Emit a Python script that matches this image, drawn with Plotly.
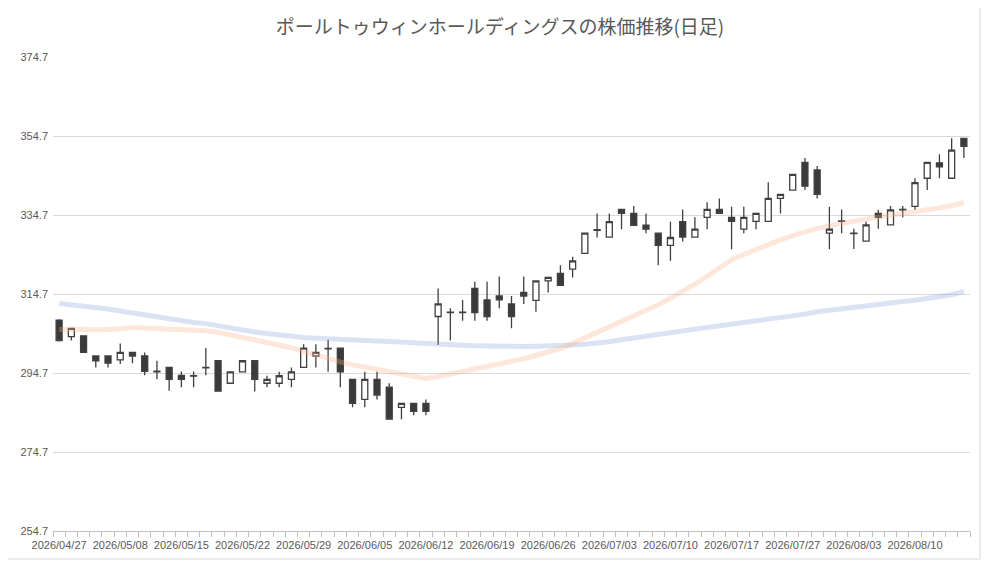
import plotly.graph_objects as go

dates = ["2026/04/27","2026/04/28","2026/04/30","2026/05/01","2026/05/07","2026/05/08","2026/05/11","2026/05/12","2026/05/13","2026/05/14",
         "2026/05/15","2026/05/18","2026/05/19","2026/05/20","2026/05/21","2026/05/22","2026/05/25","2026/05/26","2026/05/27","2026/05/28",
         "2026/05/29","2026/06/01","2026/06/02","2026/06/03","2026/06/04","2026/06/05","2026/06/08","2026/06/09","2026/06/10","2026/06/11",
         "2026/06/12","2026/06/15","2026/06/16","2026/06/17","2026/06/18","2026/06/19","2026/06/22","2026/06/23","2026/06/24","2026/06/25",
         "2026/06/26","2026/06/29","2026/06/30","2026/07/01","2026/07/02","2026/07/03","2026/07/06","2026/07/07","2026/07/08","2026/07/09",
         "2026/07/10","2026/07/13","2026/07/14","2026/07/15","2026/07/16","2026/07/17","2026/07/21","2026/07/22","2026/07/23","2026/07/24",
         "2026/07/27","2026/07/28","2026/07/29","2026/07/30","2026/07/31","2026/08/03","2026/08/04","2026/08/05","2026/08/06","2026/08/07",
         "2026/08/10","2026/08/12","2026/08/13","2026/08/14","2026/08/17"]

open_ = [308.1,303.9,304.1,299.0,299.0,298.0,299.9,299.0,295.2,296.1,
         294.1,294.0,296.0,297.8,292.1,295.0,297.8,292.1,292.1,293.1,
         296.1,299.0,300.8,301.0,293.1,288.0,293.1,291.1,286.0,287.0,
         287.0,309.0,310.1,310.1,316.1,313.2,314.2,312.2,315.1,313.1,
         318.0,319.9,321.0,325.0,331.0,329.1,336.1,335.1,332.1,330.1,
         327.0,333.0,329.1,334.1,336.1,334.1,331.1,333.1,333.1,338.9,
         341.0,348.0,346.1,330.1,333.2,330.1,328.1,335.1,332.2,336.0,
         336.9,344.0,347.9,344.0,354.1]
high = [308.3,306.0,304.1,299.0,299.0,302.2,300.1,299.9,297.8,296.1,
        295.1,295.1,301.0,297.8,295.0,297.8,297.8,294.0,295.0,296.1,
        302.0,302.0,303.1,301.0,293.1,295.0,295.0,292.1,287.0,287.0,
        288.0,316.1,311.1,313.2,317.8,317.8,319.1,314.2,319.1,318.0,
        318.9,322.0,324.1,330.1,335.1,335.1,336.1,337.0,335.1,330.1,
        333.0,336.1,334.1,337.9,338.9,336.8,336.8,335.1,343.0,339.9,
        345.0,349.1,347.1,336.8,336.1,331.2,333.0,336.0,337.0,337.0,
        344.0,348.0,350.1,354.1,354.1]
low = [302.7,302.9,299.9,296.1,296.1,297.0,297.2,294.1,293.1,290.2,
       291.1,291.1,294.1,290.1,292.1,295.0,290.0,291.1,291.1,291.1,
       296.0,296.1,295.0,291.1,286.0,286.0,288.0,283.0,283.0,284.0,
       284.0,301.8,302.9,307.9,307.9,307.9,311.1,306.0,312.2,310.2,
       315.1,316.9,318.9,325.0,329.0,329.1,331.1,332.1,330.1,322.0,
       323.1,328.0,329.1,331.1,335.1,326.0,330.1,331.1,333.1,335.1,
       341.0,341.0,338.9,326.0,330.1,326.1,328.1,331.2,332.2,334.1,
       336.0,341.0,344.0,344.0,349.1]
close = [302.9,306.0,299.9,297.8,297.2,299.9,299.0,295.1,295.0,293.1,
         293.1,293.9,296.1,290.1,295.0,297.8,293.1,293.1,294.0,295.0,
         301.0,299.9,300.9,295.0,287.0,293.1,289.1,283.0,287.0,285.0,
         285.0,312.2,310.0,310.0,310.0,309.0,313.2,309.0,314.2,318.0,
         318.9,316.9,323.1,330.1,330.8,333.0,335.1,332.1,331.1,327.0,
         329.0,329.1,331.1,336.1,335.1,333.1,334.1,335.1,338.9,339.9,
         345.0,342.0,339.9,331.1,333.1,330.0,332.2,334.1,336.0,336.1,
         342.9,348.0,346.9,351.1,352.1]

ma_short = [305.7,305.9,305.8,305.6,305.6,305.9,306.2,306.1,306.0,305.9,
            305.7,305.5,305.4,305.0,304.4,303.8,303.2,302.6,301.9,301.1,
            300.2,299.2,298.3,297.5,296.8,296.2,295.6,295.0,294.3,293.8,
            293.3,293.8,294.4,295.0,295.6,296.2,296.8,297.4,298.3,299.2,
            299.9,300.9,302.2,303.6,305.0,306.4,307.7,309.0,310.4,312.0,
            313.6,315.3,317.2,319.2,321.2,323.4,324.7,326.0,327.3,328.4,
            329.5,330.5,331.3,332.0,332.6,333.1,333.6,334.2,334.7,335.1,
            335.5,336.0,336.5,337.1,337.8]
ma_long = [312.3,312.0,311.6,311.3,310.9,310.4,309.9,309.3,308.8,308.3,
           307.9,307.5,307.2,306.6,306.0,305.5,305.1,304.7,304.3,304.0,
           303.7,303.5,303.3,303.2,303.1,302.9,302.8,302.7,302.5,302.2,
           302.0,301.8,301.7,301.7,301.6,301.5,301.4,301.4,301.4,301.5,
           301.5,301.6,301.8,302.0,302.2,302.6,303.1,303.6,304.1,304.6,
           305.0,305.4,305.8,306.2,306.6,307.0,307.4,307.8,308.2,308.6,
           309.0,309.6,310.2,310.6,311.0,311.4,311.7,312.1,312.5,312.8,
           313.1,313.5,313.9,314.5,315.4]

y_ticks = [254.7, 274.7, 294.7, 314.7, 334.7, 354.7, 374.7]
x_label_every = 5

tick_text = [d if i % x_label_every == 0 else "" for i, d in enumerate(dates)]

DARK = "#404040"
W, H = 992, 553
ML, MR, MT, MB = 45, 30, 49, 30
fig = go.Figure()
fig.add_trace(go.Candlestick(
    x=dates, open=open_, high=high, low=low, close=close,
    increasing=dict(line=dict(color=DARK, width=1.3), fillcolor="#ffffff"),
    decreasing=dict(line=dict(color=DARK, width=1.3), fillcolor="#3a3a3a"),
    whiskerwidth=0, showlegend=False, hoverinfo="skip"))
fig.add_trace(go.Scatter(x=dates, y=ma_long, mode="lines",
                         line=dict(color="rgba(143,169,219,0.33)", width=5),
                         showlegend=False, hoverinfo="skip"))
fig.add_trace(go.Scatter(x=dates, y=ma_short, mode="lines",
                         line=dict(color="rgba(244,177,131,0.30)", width=5),
                         showlegend=False, hoverinfo="skip"))

# chart-area border (right and bottom edges), in paper units
pw, ph = W - ML - MR, H - MT - MB
bx = (980 - 8 - ML) / pw
by = -(559 - 8 - (H - MB)) / ph
fig.add_shape(type="line", xref="paper", yref="paper", x0=bx, x1=bx, y0=by, y1=(H - MB) / ph,
              line=dict(color="#d9d9d9", width=1))
fig.add_shape(type="line", xref="paper", yref="paper", x0=-ML / pw, x1=bx, y0=by, y1=by,
              line=dict(color="#d9d9d9", width=1))

fig.update_layout(
    width=W, height=H,
    margin=dict(l=ML, r=MR, t=MT, b=MB, autoexpand=False),
    paper_bgcolor="white", plot_bgcolor="white",
    font=dict(family="Liberation Sans, Noto Sans CJK JP", size=11, color="#595959"),
    title=dict(text="ポールトゥウィンホールディングスの株価推移(日足)",
               x=492 / W, xref="container", xanchor="center",
               y=1 - 19 / H, yref="container", yanchor="middle",
               font=dict(family="Noto Sans CJK JP", size=19, color="#595959")),
    xaxis=dict(type="category", range=[-0.5, len(dates) - 0.5],
               tickmode="array", tickvals=dates, ticktext=tick_text,
               tickson="boundaries", ticks="outside", ticklen=5, tickcolor="#bfbfbf",
               showline=True, linecolor="#bfbfbf", linewidth=1,
               showgrid=False, tickangle=0, rangeslider=dict(visible=False),
               ticklabelstandoff=4, automargin=False,
               tickfont=dict(size=11, color="#595959")),
    yaxis=dict(range=[254.7, 374.7], tickmode="array", tickvals=y_ticks,
               ticktext=[f"{v:.1f}" for v in y_ticks],
               showgrid=True, gridcolor="#d9d9d9", gridwidth=1,
               zeroline=False, showline=False, ticks="",
               ticklabelstandoff=4, automargin=False,
               tickfont=dict(size=11, color="#595959")),
)

fig.write_html("out.html")
